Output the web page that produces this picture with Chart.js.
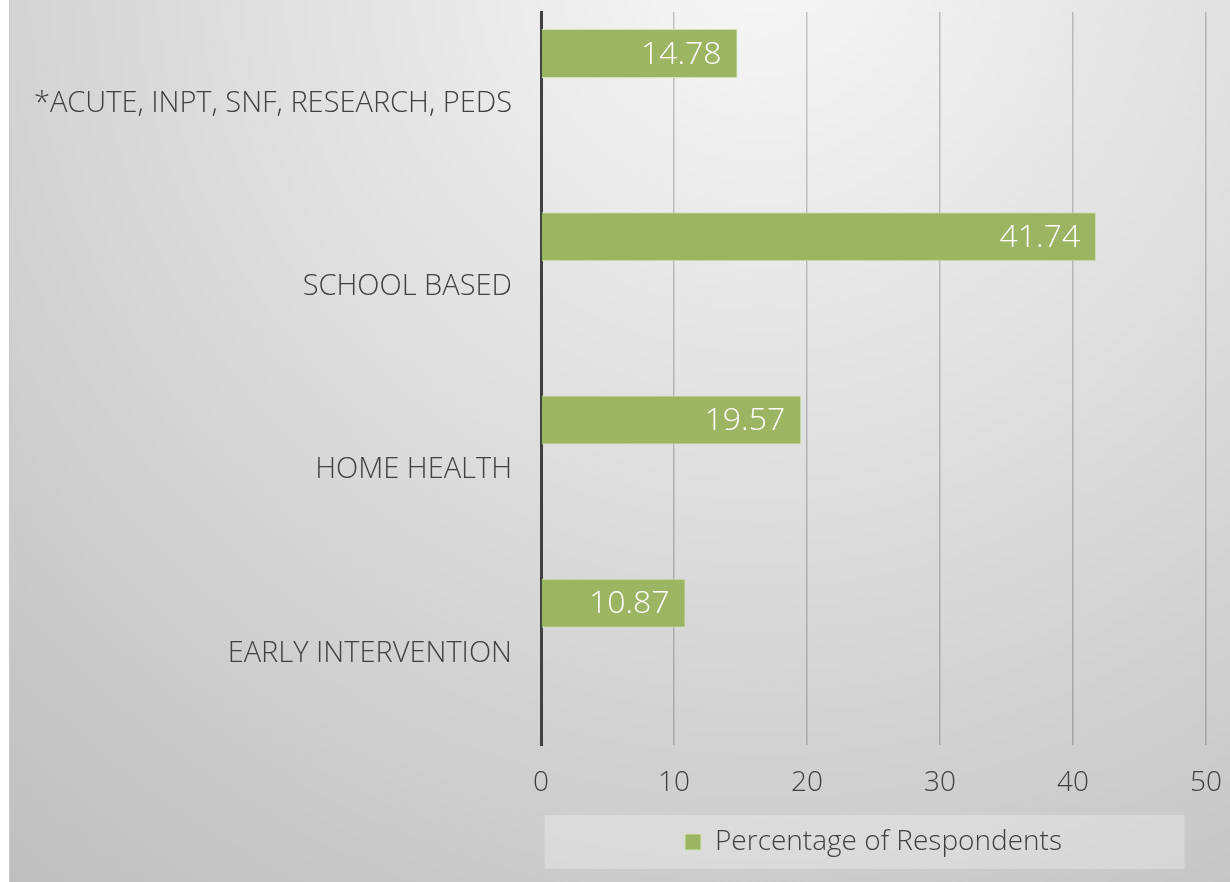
<!DOCTYPE html>
<html>
<head>
<meta charset="utf-8">
<script src="https://cdn.jsdelivr.net/npm/chart.js@4.4.1/dist/chart.umd.min.js"></script>
<style>
  html, body { margin: 0; padding: 0; background: #ffffff; }
  #wrap { width: 1230px; height: 882px; position: relative; }
</style>
</head>
<body>
<div id="wrap"><canvas id="c" width="1230" height="882"></canvas></div>
<script>
// ---- data (display order, top to bottom) ----
const categories = ['*ACUTE, INPT, SNF, RESEARCH, PEDS', 'SCHOOL BASED', 'HOME HEALTH', 'EARLY INTERVENTION'];
const seriesName = 'Percentage of Respondents';
const percentages = [14.78, 41.74, 19.57, 10.87];
const spacerA = [null, null, null, null];
const spacerB = [null, null, null, null];
const xTicks = [0, 10, 20, 30, 40, 50];

const FONT = "'Open Sans', 'Noto Sans', sans-serif";
const TEXT = '#404040';
const BAR = '#9BB563';

const bgPlugin = {
  id: 'bg',
  beforeDraw(chart) {
    const ctx = chart.ctx;
    const W = chart.width, H = chart.height;
    ctx.save();
    ctx.fillStyle = '#ffffff';
    ctx.fillRect(0, 0, W, H);
    const g = ctx.createRadialGradient(760, -40, 0, 760, -40, 1250);
    g.addColorStop(0, '#f7f7f7');
    g.addColorStop(1, '#bcbcbc');
    ctx.fillStyle = g;
    ctx.fillRect(9, 0, W - 9, H);
    ctx.strokeStyle = '#c9c9c9';
    ctx.lineWidth = 1;
    ctx.beginPath();
    ctx.moveTo(9.5, 0);
    ctx.lineTo(9.5, H);
    ctx.stroke();
    // legend background box
    const lg = chart.legend;
    if (lg && lg.width) {
      const cx = lg.left + lg.width / 2;
      const cy = lg.top + lg.height / 2;
      ctx.fillStyle = 'rgba(255,255,255,0.28)';
      ctx.fillRect(cx - 329, cy - 27, 640, 54);
    }
    ctx.restore();
  }
};

const valueLabels = {
  id: 'valueLabels',
  afterDatasetsDraw(chart) {
    const ctx = chart.ctx;
    const meta = chart.getDatasetMeta(0);
    ctx.save();
    ctx.fillStyle = '#ffffff';
    ctx.font = '300 32px ' + FONT;
    ctx.textAlign = 'right';
    ctx.textBaseline = 'middle';
    meta.data.forEach((bar, i) => {
      ctx.fillText(percentages[i].toFixed(2), bar.x - 16, bar.y + 1);
    });
    ctx.restore();
  }
};

new Chart(document.getElementById('c'), {
  type: 'bar',
  data: {
    labels: categories,
    datasets: [
      { label: seriesName, data: percentages, backgroundColor: BAR, borderColor: '#d3e2b4', borderWidth: 1 },
      { label: '', data: spacerA, backgroundColor: 'transparent' },
      { label: '', data: spacerB, backgroundColor: 'transparent' }
    ]
  },
  options: {
    indexAxis: 'y',
    responsive: false,
    animation: false,
    events: [],
    layout: { padding: { top: 12, right: 24, bottom: 16, left: 0 } },
    datasets: { bar: { categoryPercentage: 0.82, barPercentage: 0.98 } },
    scales: {
      x: {
        type: 'linear',
        min: 0, max: 50,
        afterBuildTicks(scale) { scale.ticks = xTicks.map(v => ({ value: v })); },
        ticks: { color: TEXT, font: { family: FONT, size: 28, weight: 300 }, padding: 21 },
        grid: { color: 'rgba(0,0,0,0.2)', lineWidth: 1.5, drawTicks: false },
        border: { display: false },
        afterFit(scale) { scale.height = 73; scale.paddingLeft = 0; scale.paddingRight = 0; }
      },
      y: {
        type: 'category',
        ticks: { color: TEXT, font: { family: FONT, size: 29, weight: 300 }, padding: 21 },
        grid: { display: false },
        border: { color: '#404040', width: 3 },
        afterFit(scale) { scale.width = 541; scale.paddingTop = 0; scale.paddingBottom = 0; }
      }
    },
    plugins: {
      legend: {
        position: 'bottom',
        fullSize: false,
        labels: {
          color: TEXT,
          font: { family: FONT, size: 28, weight: 300 },
          boxWidth: 16, boxHeight: 16, padding: 10,
          filter: (item) => item.datasetIndex === 0
        }
      },
      tooltip: { enabled: false }
    }
  },
  plugins: [bgPlugin, valueLabels]
});
</script>
</body>
</html>
